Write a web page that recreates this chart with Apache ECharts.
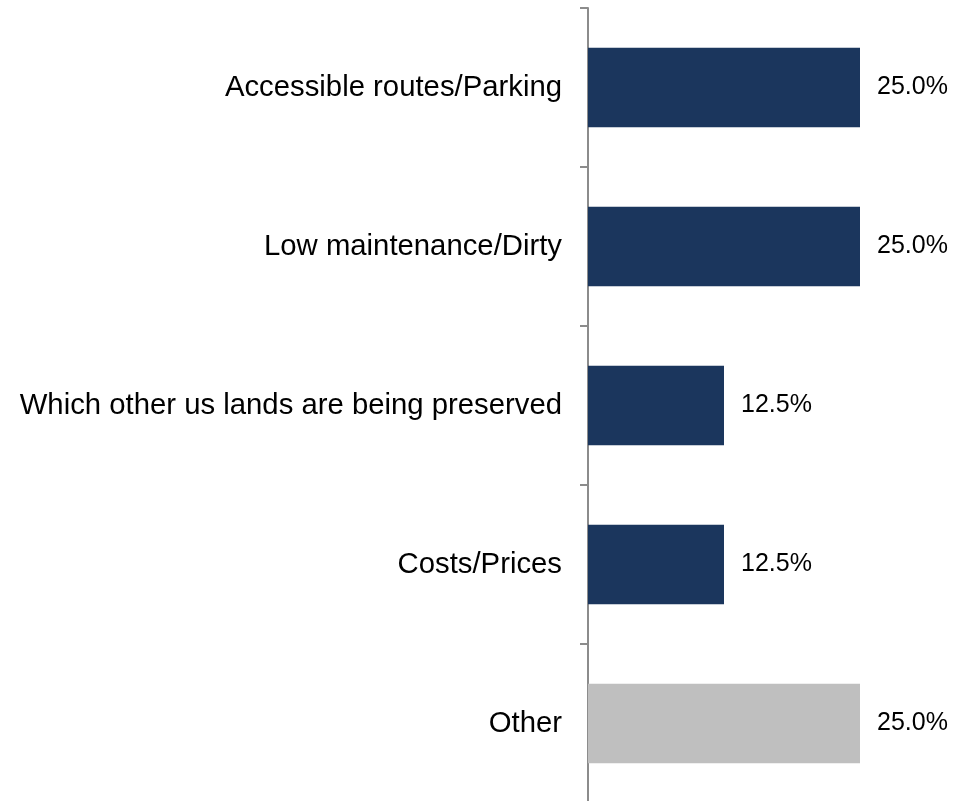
<!DOCTYPE html>
<html>
<head>
<meta charset="utf-8">
<script src="https://cdn.jsdelivr.net/npm/echarts@6/dist/echarts.min.js"></script>
<style>
  html, body { margin: 0; padding: 0; background: #fff; overflow: hidden; }
  #chart { width: 959px; height: 808px; }
</style>
</head>
<body>
<div id="chart"></div>
<script>
// 类别与数值（百分比）
var categories = [
  'Accessible routes/Parking',
  'Low maintenance/Dirty',
  'Which other us lands are being preserved',
  'Costs/Prices',
  'Other'
]
var values = [25.0, 25.0, 12.5, 12.5, 25.0]

var myChart = echarts.init(document.getElementById('chart'))

var option = {
  backgroundColor: '#fff',
  animation: false,
  // 底部刻度落在可视区域之外
  grid: { left: 588, right: 99, top: 8, bottom: 5 },
  xAxis: {
    type: 'value',
    min: 0,
    max: 25,
    show: false
  },
  yAxis: {
    type: 'category',
    data: categories,
    inverse: true,
    axisLine: { show: true, lineStyle: { color: '#8c8c8c', width: 2 } },
    axisTick: {
      show: true,
      inside: false,
      alignWithLabel: false,
      length: 8,
      lineStyle: { color: '#8c8c8c', width: 2 }
    },
    axisLabel: {
      margin: 26,
      fontFamily: 'Liberation Sans, Arial, sans-serif',
      fontSize: 29.3,
      color: '#000'
    }
  },
  series: [
    {
      type: 'bar',
      data: values,
      barWidth: '50%',
      itemStyle: {
        color: function (p) {
          // "Other" 用灰色
          return p.name === 'Other' ? '#bfbfbf' : '#1b365d'
        }
      },
      label: {
        show: true,
        position: 'right',
        distance: 17,
        fontFamily: 'Liberation Sans, Arial, sans-serif',
        fontSize: 25,
        color: '#000',
        formatter: function (p) {
          return p.value.toFixed(1) + '%'
        }
      }
    }
  ]
}

myChart.setOption(option)
</script>
</body>
</html>
